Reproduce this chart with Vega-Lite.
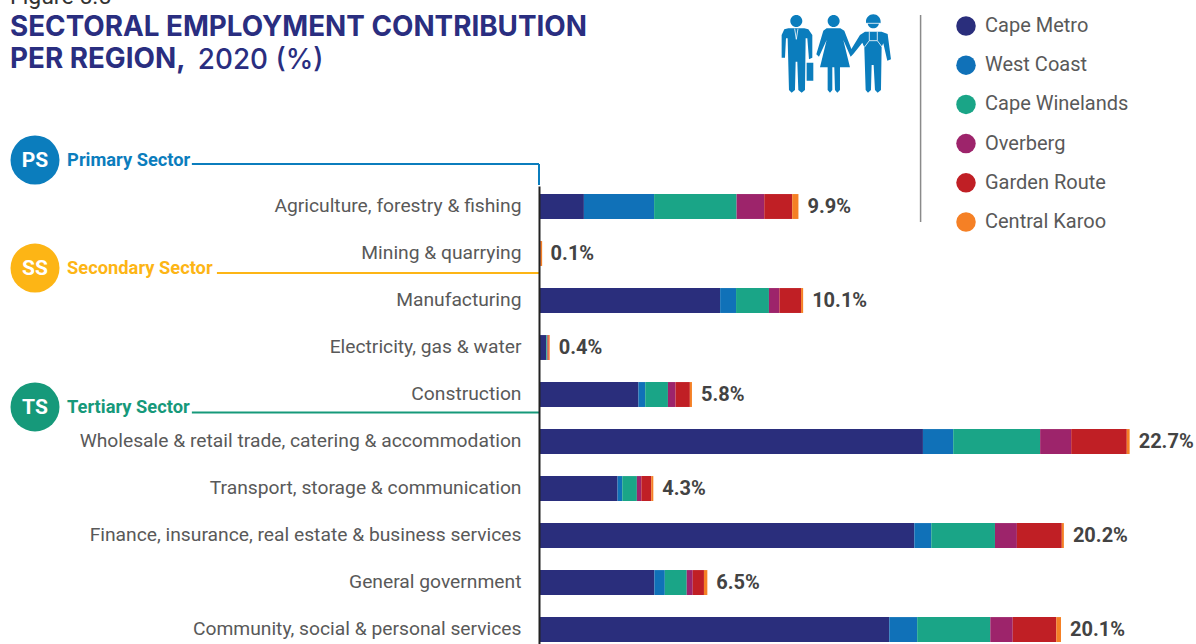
{
"$schema":"https://vega.github.io/schema/vega-lite/v6.json",
"width":657,"height":458,"autosize":{"type":"none"},"padding":{"left":539,"top":186,"right":0,"bottom":0},
"background":"white",
"title":{"text":["SECTORAL EMPLOYMENT CONTRIBUTION","PER REGION,"],"anchor":"start","frame":"group","dx":-529,"dy":92,"font":"Inter","fontSize":27.8,"fontWeight":700,"color":"#2a2e80","lineHeight":32},
"config":{"view":{"stroke":null},"axis":{"grid":false}},
"datasets":{
"bars":[
{"industry":"Agriculture, forestry & fishing","region":"Cape Metro","rank":1,"share":1.72},{"industry":"Agriculture, forestry & fishing","region":"West Coast","rank":2,"share":2.69},{"industry":"Agriculture, forestry & fishing","region":"Cape Winelands","rank":3,"share":3.16},{"industry":"Agriculture, forestry & fishing","region":"Overberg","rank":4,"share":1.06},{"industry":"Agriculture, forestry & fishing","region":"Garden Route","rank":5,"share":1.07},{"industry":"Agriculture, forestry & fishing","region":"Central Karoo","rank":6,"share":0.24},
{"industry":"Mining & quarrying","region":"Cape Metro","rank":1,"share":0.005},{"industry":"Mining & quarrying","region":"West Coast","rank":2,"share":0.005},{"industry":"Mining & quarrying","region":"Cape Winelands","rank":3,"share":0.005},{"industry":"Mining & quarrying","region":"Overberg","rank":4,"share":0.005},{"industry":"Mining & quarrying","region":"Garden Route","rank":5,"share":0.04},{"industry":"Mining & quarrying","region":"Central Karoo","rank":6,"share":0.06},
{"industry":"Manufacturing","region":"Cape Metro","rank":1,"share":6.94},{"industry":"Manufacturing","region":"West Coast","rank":2,"share":0.61},{"industry":"Manufacturing","region":"Cape Winelands","rank":3,"share":1.26},{"industry":"Manufacturing","region":"Overberg","rank":4,"share":0.40},{"industry":"Manufacturing","region":"Garden Route","rank":5,"share":0.83},{"industry":"Manufacturing","region":"Central Karoo","rank":6,"share":0.08},
{"industry":"Electricity, gas & water","region":"Cape Metro","rank":1,"share":0.27},{"industry":"Electricity, gas & water","region":"West Coast","rank":2,"share":0.01},{"industry":"Electricity, gas & water","region":"Cape Winelands","rank":3,"share":0.04},{"industry":"Electricity, gas & water","region":"Overberg","rank":4,"share":0.01},{"industry":"Electricity, gas & water","region":"Garden Route","rank":5,"share":0.04},{"industry":"Electricity, gas & water","region":"Central Karoo","rank":6,"share":0.04},
{"industry":"Construction","region":"Cape Metro","rank":1,"share":3.81},{"industry":"Construction","region":"West Coast","rank":2,"share":0.26},{"industry":"Construction","region":"Cape Winelands","rank":3,"share":0.87},{"industry":"Construction","region":"Overberg","rank":4,"share":0.29},{"industry":"Construction","region":"Garden Route","rank":5,"share":0.55},{"industry":"Construction","region":"Central Karoo","rank":6,"share":0.08},
{"industry":"Wholesale & retail trade, catering & accommodation","region":"Cape Metro","rank":1,"share":14.71},{"industry":"Wholesale & retail trade, catering & accommodation","region":"West Coast","rank":2,"share":1.16},{"industry":"Wholesale & retail trade, catering & accommodation","region":"Cape Winelands","rank":3,"share":3.33},{"industry":"Wholesale & retail trade, catering & accommodation","region":"Overberg","rank":4,"share":1.19},{"industry":"Wholesale & retail trade, catering & accommodation","region":"Garden Route","rank":5,"share":2.13},{"industry":"Wholesale & retail trade, catering & accommodation","region":"Central Karoo","rank":6,"share":0.11},
{"industry":"Transport, storage & communication","region":"Cape Metro","rank":1,"share":3.01},{"industry":"Transport, storage & communication","region":"West Coast","rank":2,"share":0.18},{"industry":"Transport, storage & communication","region":"Cape Winelands","rank":3,"share":0.56},{"industry":"Transport, storage & communication","region":"Overberg","rank":4,"share":0.17},{"industry":"Transport, storage & communication","region":"Garden Route","rank":5,"share":0.38},{"industry":"Transport, storage & communication","region":"Central Karoo","rank":6,"share":0.08},
{"industry":"Finance, insurance, real estate & business services","region":"Cape Metro","rank":1,"share":14.38},{"industry":"Finance, insurance, real estate & business services","region":"West Coast","rank":2,"share":0.65},{"industry":"Finance, insurance, real estate & business services","region":"Cape Winelands","rank":3,"share":2.44},{"industry":"Finance, insurance, real estate & business services","region":"Overberg","rank":4,"share":0.84},{"industry":"Finance, insurance, real estate & business services","region":"Garden Route","rank":5,"share":1.72},{"industry":"Finance, insurance, real estate & business services","region":"Central Karoo","rank":6,"share":0.08},
{"industry":"General government","region":"Cape Metro","rank":1,"share":4.42},{"industry":"General government","region":"West Coast","rank":2,"share":0.40},{"industry":"General government","region":"Cape Winelands","rank":3,"share":0.84},{"industry":"General government","region":"Overberg","rank":4,"share":0.23},{"industry":"General government","region":"Garden Route","rank":5,"share":0.43},{"industry":"General government","region":"Central Karoo","rank":6,"share":0.13},
{"industry":"Community, social & personal services","region":"Cape Metro","rank":1,"share":13.42},{"industry":"Community, social & personal services","region":"West Coast","rank":2,"share":1.07},{"industry":"Community, social & personal services","region":"Cape Winelands","rank":3,"share":2.80},{"industry":"Community, social & personal services","region":"Overberg","rank":4,"share":0.86},{"industry":"Community, social & personal services","region":"Garden Route","rank":5,"share":1.67},{"industry":"Community, social & personal services","region":"Central Karoo","rank":6,"share":0.18}
],
"totals":[
{"industry":"Agriculture, forestry & fishing","total":9.94,"label":"9.9%"},
{"industry":"Mining & quarrying","total":0.1,"label":"0.1%"},
{"industry":"Manufacturing","total":10.12,"label":"10.1%"},
{"industry":"Electricity, gas & water","total":0.41,"label":"0.4%"},
{"industry":"Construction","total":5.86,"label":"5.8%"},
{"industry":"Wholesale & retail trade, catering & accommodation","total":22.63,"label":"22.7%"},
{"industry":"Transport, storage & communication","total":4.38,"label":"4.3%"},
{"industry":"Finance, insurance, real estate & business services","total":20.11,"label":"20.2%"},
{"industry":"General government","total":6.45,"label":"6.5%"},
{"industry":"Community, social & personal services","total":20.0,"label":"20.1%"}
],
"sectors":[
{"sector":"Primary Sector","code":"PS","cx":-19.31,"lx":-18.08,"row":-0.553},
{"sector":"Secondary Sector","code":"SS","cx":-19.31,"lx":-18.08,"row":1.745},
{"sector":"Tertiary Sector","code":"TS","cx":-19.31,"lx":-18.08,"row":4.702}
],
"links":[
{"sector":"Primary Sector","x1":-13.30,"x2":0,"r1":-0.468,"r2":-0.468},
{"sector":"Primary Sector","x1":0,"x2":0,"r1":-0.468,"r2":-0.02},
{"sector":"Secondary Sector","x1":-12.34,"x2":0,"r1":1.851,"r2":1.851},
{"sector":"Tertiary Sector","x1":-13.30,"x2":0,"r1":4.819,"r2":4.819}
],
"notes":[
{"t":"Figure 5.5","x":-20.27,"row":-3.872,"kind":"fig"},
{"t":"2020 (%)","x":-13.07,"row":-2.5,"kind":"year"}
],
"furniture":[{"x1":14.62,"x2":14.62,"r1":-3.638,"r2":0.766}],
"icon":[{"x":11.34,"row":-2.823}]
},
"resolve":{"scale":{"y":"independent","color":"independent"}},
"layer":[
{"data":{"name":"bars"},
 "mark":{"type":"bar"},
 "encoding":{
  "y":{"field":"industry","type":"nominal","sort":null,"scale":{"type":"band","domain":["Agriculture, forestry & fishing","Mining & quarrying","Manufacturing","Electricity, gas & water","Construction","Wholesale & retail trade, catering & accommodation","Transport, storage & communication","Finance, insurance, real estate & business services","General government","Community, social & personal services"],"paddingInner":0.47,"paddingOuter":0.107,"align":0.8},
   "axis":{"title":null,"ticks":false,"labelFont":"Roboto","labelFontSize":19.25,"labelColor":"#595959","labelPadding":18,"labelLimit":600,"labelOffset":-1,"domainColor":"#222222","domainWidth":2,"labelFontWeight":400,"zindex":1}},
  "x":{"field":"share","type":"quantitative","stack":"zero","scale":{"domain":[0,25.172],"nice":false,"zero":false},"axis":null},
  "order":{"field":"rank","type":"ordinal"},
  "color":{"field":"region","type":"nominal","scale":{"domain":["Cape Metro","West Coast","Cape Winelands","Overberg","Garden Route","Central Karoo"],"range":["#2a2e7c","#1071b8","#1aa587","#9d246b","#c01f25","#f58025"]},
   "legend":{"title":null,"orient":"none","legendX":417,"legendY":-170,"symbolType":"circle","symbolSize":380,"symbolStrokeWidth":0,"labelFont":"Roboto","labelFontSize":20,"labelColor":"#595959","labelOffset":9,"rowPadding":19.2,"labelLimit":300}}
 }},
{"data":{"name":"totals"},
 "mark":{"type":"text","align":"left","baseline":"middle","dx":9,"font":"Roboto","fontSize":20,"fontWeight":700,"color":"#434343"},
 "encoding":{
  "y":{"field":"industry","type":"nominal","sort":null,"scale":{"type":"band","domain":["Agriculture, forestry & fishing","Mining & quarrying","Manufacturing","Electricity, gas & water","Construction","Wholesale & retail trade, catering & accommodation","Transport, storage & communication","Finance, insurance, real estate & business services","General government","Community, social & personal services"],"paddingInner":0.47,"paddingOuter":0.107,"align":0.8},"axis":null},
  "x":{"field":"total","type":"quantitative"},
  "text":{"field":"label"}
 }},
{"data":{"name":"links"},
 "mark":{"type":"rule","strokeWidth":2},
 "encoding":{
  "x":{"field":"x1","type":"quantitative"},"x2":{"field":"x2"},
  "y":{"field":"r1","type":"quantitative","scale":{"domain":[0,9.745],"reverse":true,"nice":false,"zero":false},"axis":null},"y2":{"field":"r2"},
  "color":{"field":"sector","type":"nominal","scale":{"domain":["Primary Sector","Secondary Sector","Tertiary Sector"],"range":["#0b7dbd","#fdb515","#16997a"]},"legend":null}
 }},
{"data":{"name":"sectors"},
 "mark":{"type":"circle","size":2401,"opacity":1},
 "encoding":{
  "x":{"field":"cx","type":"quantitative"},
  "y":{"field":"row","type":"quantitative","scale":{"domain":[0,9.745],"reverse":true,"nice":false,"zero":false},"axis":null},
  "color":{"field":"sector","type":"nominal","scale":{"domain":["Primary Sector","Secondary Sector","Tertiary Sector"],"range":["#0b7dbd","#fdb515","#16997a"]},"legend":null}
 }},
{"data":{"name":"sectors"},
 "mark":{"type":"text","align":"center","baseline":"middle","dy":1,"font":"Roboto","fontSize":21,"fontWeight":700,"color":"#ffffff"},
 "encoding":{
  "x":{"field":"cx","type":"quantitative"},
  "y":{"field":"row","type":"quantitative","scale":{"domain":[0,9.745],"reverse":true,"nice":false,"zero":false},"axis":null},
  "text":{"field":"code"}
 }},
{"data":{"name":"sectors"},
 "mark":{"type":"text","align":"left","baseline":"middle","dy":1,"font":"Roboto","fontSize":18.3,"fontWeight":700},
 "encoding":{
  "x":{"field":"lx","type":"quantitative"},
  "y":{"field":"row","type":"quantitative","scale":{"domain":[0,9.745],"reverse":true,"nice":false,"zero":false},"axis":null},
  "text":{"field":"sector"},
  "color":{"field":"sector","type":"nominal","scale":{"domain":["Primary Sector","Secondary Sector","Tertiary Sector"],"range":["#0b7dbd","#fdb515","#16997a"]},"legend":null}
 }},
{"data":{"name":"notes"},
 "transform":[{"filter":"datum.kind=='year'"}],
 "mark":{"type":"text","align":"left","baseline":"alphabetic","font":"Inter","fontSize":27.8,"fontWeight":500,"color":"#2a2e80"},
 "encoding":{
  "x":{"field":"x","type":"quantitative"},
  "y":{"field":"row","type":"quantitative","scale":{"domain":[0,9.745],"reverse":true,"nice":false,"zero":false},"axis":null},
  "text":{"field":"t"}
 }},
{"data":{"name":"notes"},
 "transform":[{"filter":"datum.kind=='fig'"}],
 "mark":{"type":"text","align":"left","baseline":"alphabetic","font":"Roboto","fontSize":23,"fontWeight":400,"color":"#333333"},
 "encoding":{
  "x":{"field":"x","type":"quantitative"},
  "y":{"field":"row","type":"quantitative","scale":{"domain":[0,9.745],"reverse":true,"nice":false,"zero":false},"axis":null},
  "text":{"field":"t"}
 }},
{"data":{"name":"furniture"},
 "mark":{"type":"rule","strokeWidth":1.5,"color":"#8a8a8a"},
 "encoding":{
  "x":{"field":"x1","type":"quantitative"},"x2":{"field":"x2"},
  "y":{"field":"r1","type":"quantitative","scale":{"domain":[0,9.745],"reverse":true,"nice":false,"zero":false},"axis":null},"y2":{"field":"r2"}
 }},
{"data":{"name":"icon"},
 "mark":{"type":"point","filled":true,"size":0.4444,"opacity":1,"color":"#0b7dbd","shape":"M-134,-97A18,18 0 1,1 -98,-97A18,18 0 1,1 -134,-97ZM-140,-75L-92,-75L-80,-72L-68,-55L-68,13L-78,18L-83,-45L-88,-45L-90,110L-100,118L-110,110L-113,25L-118,25L-120,110L-130,118L-138,110L-142,-45L-147,-45L-150,13L-160,13L-160,-55L-152,-72ZM-85,28L-65,28L-65,82L-85,82ZM-22,-97A18,18 0 1,1 14,-97A18,18 0 1,1 -22,-97ZM-25,-75L16,-75L28,-68L55,2L47,10L25,-40L45,42L15,42L15,110L7,118L0,110L-2,42L-8,42L-8,110L-15,118L-22,110L-22,42L-45,42L-25,-40L-48,10L-56,3L-35,-68ZM98,-92A17,17 0 1,1 132,-92A17,17 0 1,1 98,-92ZM93,-95A22,22 0 0,1 137,-95L137,-90L93,-90ZM90,-65L140,-65L158,-58L168,18L157,22L145,-30L140,-20L138,110L128,118L120,110L116,35L110,35L108,110L99,118L92,110L88,-18L82,-32L55,2L46,-8L75,-55Z"},
 "encoding":{
  "x":{"field":"x","type":"quantitative"},
  "y":{"field":"row","type":"quantitative","scale":{"domain":[0,9.745],"reverse":true,"nice":false,"zero":false},"axis":null}
 }},
{"data":{"name":"icon"},
 "mark":{"type":"point","filled":false,"size":0.4444,"opacity":1,"stroke":"#ffffff","strokeWidth":0.8,"shape":"M-121,-74L-116,-42L-111,-74M93,-90L137,-90M103,-65L103,-38L127,-38L127,-65M88,-18L103,-38M142,-18L127,-38"},
 "encoding":{
  "x":{"field":"x","type":"quantitative"},
  "y":{"field":"row","type":"quantitative","scale":{"domain":[0,9.745],"reverse":true,"nice":false,"zero":false},"axis":null}
 }}
]
}
